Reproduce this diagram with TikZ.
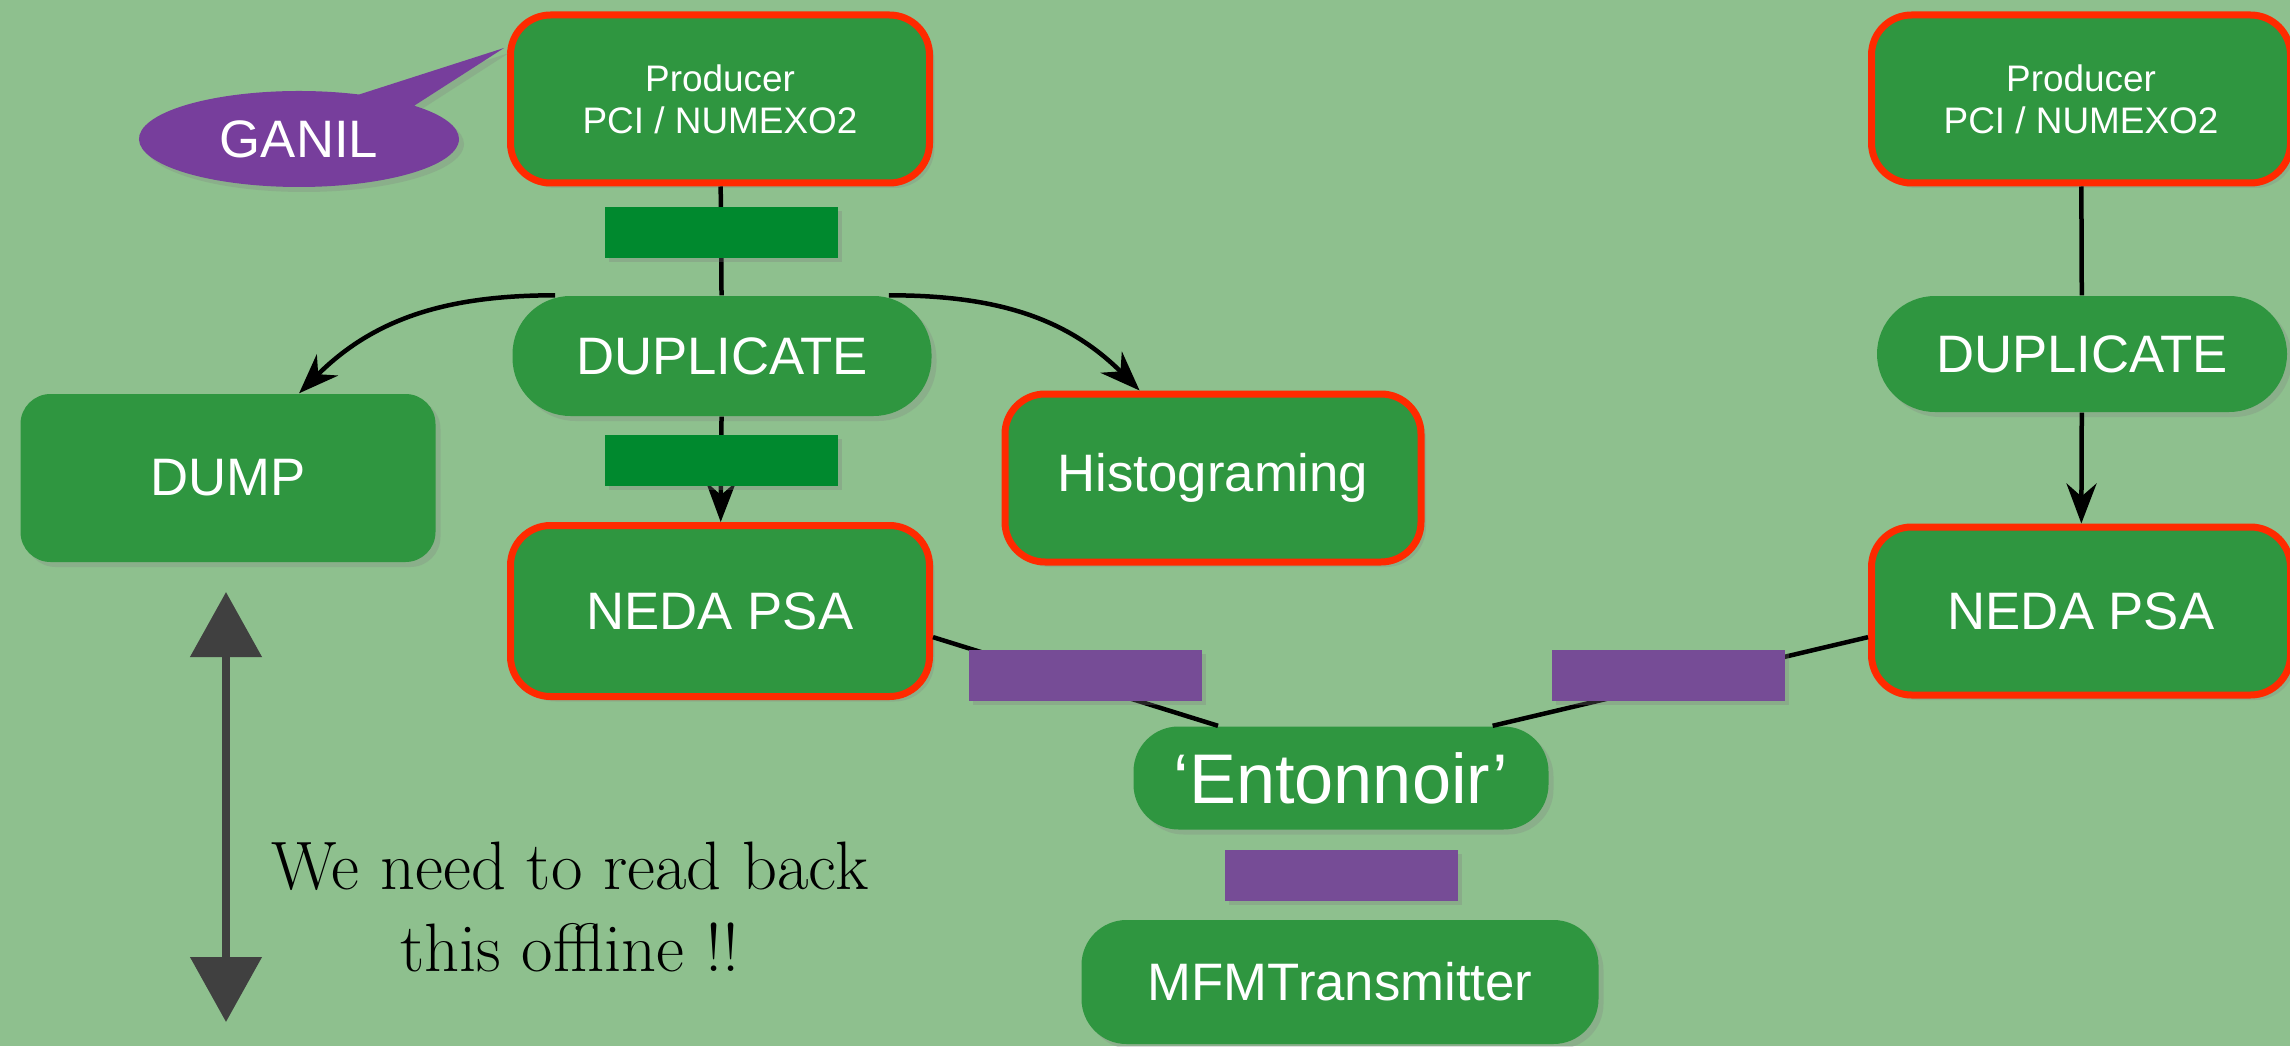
\documentclass[tikz,border=0pt]{standalone}
\usepackage{fontspec}
\setsansfont{Liberation Sans}
\usepackage{xcolor}
\usetikzlibrary{arrows.meta,shapes.callouts,shadows}
\definecolor{bggreen}{HTML}{8EC08E}
\definecolor{boxgreen}{HTML}{2F9640}
\definecolor{bargreen}{HTML}{00892E}
\definecolor{barpurple}{HTML}{764C96}
\definecolor{ganilpurple}{HTML}{773E9C}
\definecolor{boxred}{HTML}{FF2A00}
\definecolor{arrowgray}{HTML}{404040}

\begin{document}
\begin{tikzpicture}[x=0.1mm,y=0.1mm,
	box/.style={rounded corners=4mm, fill=boxgreen, text=white, font=\sffamily\fontsize{15}{18}\selectfont, minimum width=41.9mm, minimum height=16.8mm, inner sep=0pt, drop shadow={opacity=0.25,shadow xshift=0.5mm,shadow yshift=-0.5mm}},
	redbox/.style={box, draw=boxred, line width=0.7mm},
	pill/.style={box, rounded corners=5.8mm, minimum height=12mm},
	bar/.style={minimum width=23.3mm, minimum height=5.1mm, inner sep=0pt, drop shadow={opacity=0.3,shadow xshift=0.4mm,shadow yshift=-0.4mm}},
	link/.style={line width=0.45mm},
	>={Stealth[length=4mm,width=3mm]}]
	\fill[bggreen] (0,0) rectangle (2290,1046);
	\useasboundingbox (0,0) rectangle (2290,1046);

	\node[redbox, align=center, font=\sffamily\fontsize{10.5}{12}\selectfont] (prodL) at (720,947) {Producer\\PCI / NUMEXO2};
	\node[pill] (dupL) at (722,690) {DUPLICATE};
	\node[box, rounded corners=3mm, minimum width=41.5mm] (dump) at (228,568) {DUMP};
	\node[redbox, minimum width=41.6mm] (hist) at (1213,568) {Histograming};
	\node[redbox, minimum height=17.1mm] (nedaL) at (720,435) {NEDA PSA};
	\node[box, rounded corners=4.5mm, minimum width=41.5mm, minimum height=10.3mm, font=\sffamily\fontsize{20}{24}\selectfont] (ent) at (1341,268) {`Entonnoir'};
	\node[box, rounded corners=4.5mm, minimum width=51.7mm, minimum height=12.4mm] (mfm) at (1340,64) {MFMTransmitter};

	\node[redbox, align=center, font=\sffamily\fontsize{10.5}{12}\selectfont] (prodR) at (2081,947) {Producer\\PCI / NUMEXO2};
	\node[pill, minimum width=41mm, minimum height=11.6mm] (dupR) at (2082,692) {DUPLICATE};
	\node[redbox] (nedaR) at (2081,435) {NEDA PSA};

	\node[ellipse callout, fill=ganilpurple, text=white, font=\sffamily\fontsize{15}{18}\selectfont, minimum width=32mm, minimum height=9.6mm, callout absolute pointer={(504,998)}, callout pointer arc=24, drop shadow={opacity=0.25,shadow xshift=0.5mm,shadow yshift=-0.5mm}] (ganil) at (299,907) {GANIL};

	\draw[link] (prodL) -- (dupL);
	\draw[link, ->] (dupL) -- (nedaL);
	\draw[link, ->] (dupL.160) to[out=180, in=45] (dump.50);
	\draw[link, ->] (dupL.20) to[out=0, in=135] (hist.130);
	\draw[link] (nedaL.-7) -- (ent.157);
	\draw[link] (nedaR.187) -- (ent.19);
	\draw[link] (prodR) -- (dupR);
	\draw[link, ->] (dupR) -- (nedaR);

	\node[bar, fill=bargreen] (gbar1) at (721,813) {};
	\node[bar, fill=bargreen] (gbar2) at (721,586) {};
	\node[bar, fill=barpurple] (pbar1) at (1085,371) {};
	\node[bar, fill=barpurple] (pbar2) at (1668,371) {};
	\node[bar, fill=barpurple] (pbar3) at (1341,171) {};

	\coordinate (uptip) at (226,454);
	\coordinate (downtip) at (226,24);
	\draw[{Triangle[width=7mm,length=6.5mm]}-{Triangle[width=7mm,length=6.5mm]}, line width=0.8mm, arrowgray] (uptip) -- (downtip);
	\node[align=center, font=\fontsize{19.5}{23.6}\selectfont] (note) at (570,139) {We need to read back\\this offline !!};
\end{tikzpicture}
\end{document}
